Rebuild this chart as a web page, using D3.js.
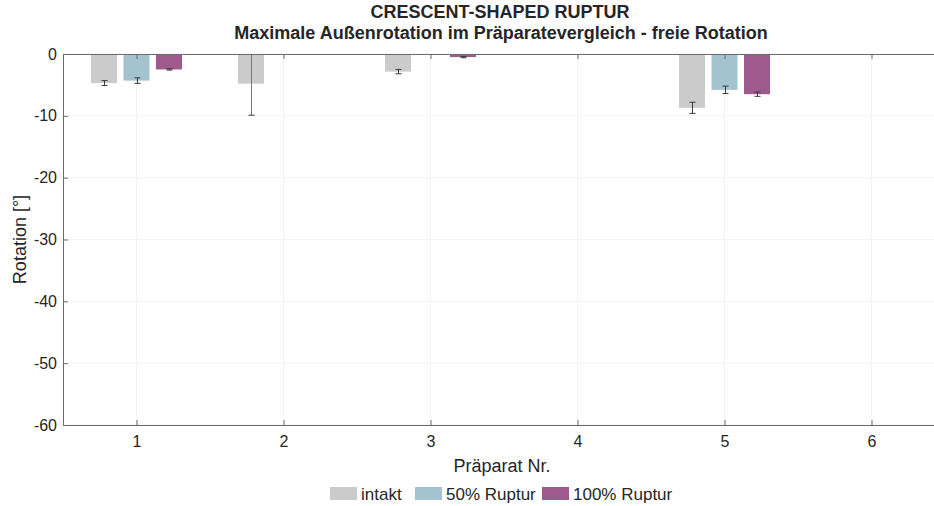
<!DOCTYPE html>
<html>
<head>
<meta charset="utf-8">
<script src="https://cdn.jsdelivr.net/npm/d3@7"></script>
<style>
  body { margin: 0; background: #fff; }
  svg text { font-family: "Liberation Sans", Arial, sans-serif; fill: #262626; }
</style>
</head>
<body>
<div id="main"></div>
<script>
// Präparat Nr. 1..6, mean rotation and error per condition
const praeparate = [1, 2, 3, 4, 5, 6];
const seriesNames = ["intakt", "50% Ruptur", "100% Ruptur"];
const intakt = [-4.7, -4.8, -2.85, 0, -8.7, 0];
const intaktErr = [0.4, 5.1, 0.35, 0, 0.9, 0];
const ruptur50 = [-4.3, 0, 0, 0, -5.8, 0];
const ruptur50Err = [0.45, 0, 0, 0, 0.6, 0];
const ruptur100 = [-2.5, 0, -0.5, 0, -6.5, 0];
const ruptur100Err = [0.1, 0, 0.1, 0, 0.35, 0];
const yTicks = [0, -10, -20, -30, -40, -50, -60];
const colors = ["#cbcbcb", "#a3c3ce", "#9e5a8c"];

let config = {width: 934, height: 506, left: 63, right: 945, top: 54, bottom: 425};

const svg = d3.select("#main").append("svg")
    .attr("width", config.width)
    .attr("height", config.height);

const x = d3.scaleLinear().domain([0.5, 6.5]).range([config.left, config.right]);
const y = d3.scaleLinear().domain([-60, 0]).range([config.bottom, config.top]);
const xSub = d3.scaleBand().domain(seriesNames).range([-48.75, 48.75])
    .paddingInner(0.2).paddingOuter(0.1);

svg.append("defs").append("clipPath").attr("id", "plotclip")
  .append("rect")
    .attr("x", config.left).attr("y", config.top)
    .attr("width", config.right - config.left)
    .attr("height", config.bottom - config.top);

// grid
const grid = svg.append("g");
grid.selectAll("line.gx").data(praeparate).join("line")
    .attr("x1", d => x(d)).attr("x2", d => x(d))
    .attr("y1", config.top).attr("y2", config.bottom)
    .attr("stroke", "#f3f3f3");
grid.selectAll("line.gy").data(yTicks).join("line")
    .attr("x1", config.left).attr("x2", config.right)
    .attr("y1", d => y(d)).attr("y2", d => y(d))
    .attr("stroke", "#f3f3f3");

// rows of data
const rows = [];
const vals = [intakt, ruptur50, ruptur100];
const errs = [intaktErr, ruptur50Err, ruptur100Err];
seriesNames.forEach((s, i) => {
    praeparate.forEach((p, j) => {
        rows.push({series: s, idx: i, p: p, v: vals[i][j], e: errs[i][j]});
    });
});

const plot = svg.append("g").attr("clip-path", "url(#plotclip)");

plot.selectAll("rect.bar").data(rows).join("rect")
    .attr("x", d => x(d.p) + xSub(d.series))
    .attr("y", d => y(0))
    .attr("width", xSub.bandwidth())
    .attr("height", d => y(d.v) - y(0))
    .attr("fill", d => colors[d.idx]);

// error bars
const eb = plot.append("g").attr("stroke", "#3a3a3a").attr("stroke-width", 1);
rows.forEach(d => {
    const cx = Math.round(x(d.p) + xSub(d.series) + xSub.bandwidth() / 2) + 0.5;
    const y1 = y(d.v + d.e), y2 = y(d.v - d.e);
    eb.append("line").attr("x1", cx).attr("x2", cx).attr("y1", y1).attr("y2", y2)
        .attr("stroke", d.e > 2 ? "#777" : "#3a3a3a");
    [y1, y2].forEach(yy => {
        eb.append("line").attr("x1", cx - 3).attr("x2", cx + 3)
            .attr("y1", yy).attr("y2", yy);
    });
});

// axes
const axisColor = "#6b6b6b";
const xAxis = svg.append("g")
    .attr("transform", `translate(0,${config.bottom})`)
    .call(d3.axisBottom(x).tickValues(praeparate).tickSize(-5).tickPadding(11).tickFormat(d3.format("d")));
const yAxis = svg.append("g")
    .attr("transform", `translate(${config.left},0)`)
    .call(d3.axisLeft(y).tickValues(yTicks).tickSize(-5).tickPadding(6).tickFormat(d => d));
[xAxis, yAxis].forEach(a => {
    a.select(".domain").attr("stroke", axisColor);
    a.selectAll(".tick line").attr("stroke", axisColor);
    a.selectAll(".tick text").attr("font-size", 16).attr("fill", "#262626")
        .style("font-family", "'Liberation Sans', Arial, sans-serif");
});

// top box line with inward ticks
svg.append("line")
    .attr("x1", config.left).attr("x2", config.right)
    .attr("y1", config.top + 0.5).attr("y2", config.top + 0.5)
    .attr("stroke", axisColor);
svg.append("g").selectAll("line").data(praeparate).join("line")
    .attr("x1", d => x(d) + 0.5).attr("x2", d => x(d) + 0.5)
    .attr("y1", config.top).attr("y2", config.top + 5)
    .attr("stroke", axisColor);

// titles
svg.append("text").attr("x", 500).attr("y", 17.5).attr("text-anchor", "middle")
    .attr("font-size", 18).attr("font-weight", "bold").text("CRESCENT-SHAPED RUPTUR");
svg.append("text").attr("x", 501).attr("y", 38.5).attr("text-anchor", "middle")
    .attr("font-size", 18).attr("font-weight", "bold")
    .text("Maximale Außenrotation im Präparatevergleich - freie Rotation");

svg.append("text").attr("x", 502).attr("y", 472).attr("text-anchor", "middle")
    .attr("font-size", 18).text("Präparat Nr.");
svg.append("text")
    .attr("transform", `translate(26,${(config.top + config.bottom) / 2}) rotate(-90)`)
    .attr("text-anchor", "middle").attr("font-size", 18).text("Rotation [°]");

// legend
const legendX = [330, 415, 542];
const legend = svg.append("g");
seriesNames.forEach((s, i) => {
    legend.append("rect").attr("x", legendX[i]).attr("y", 487)
        .attr("width", 27).attr("height", 13).attr("fill", colors[i]);
    legend.append("text").attr("x", legendX[i] + 31).attr("y", 500)
        .attr("font-size", 17).text(s);
});
</script>
</body>
</html>
